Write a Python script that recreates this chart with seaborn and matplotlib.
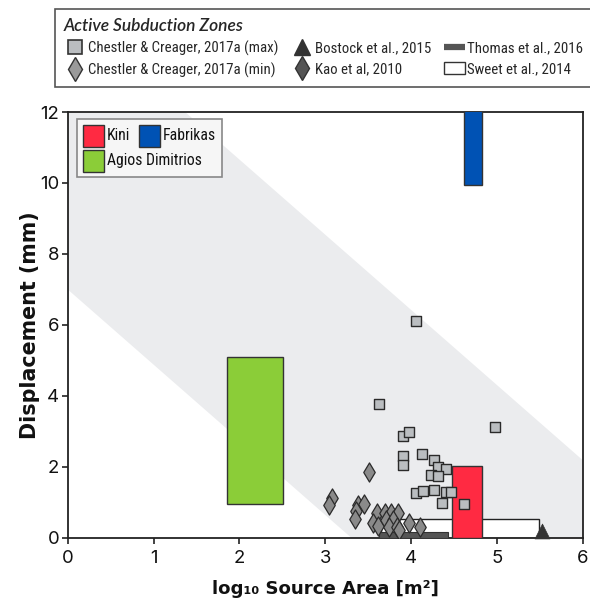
import numpy as np
import pandas as pd
import matplotlib
matplotlib.use("Agg")
import matplotlib.pyplot as plt
from matplotlib import font_manager
from matplotlib.font_manager import FontProperties
from matplotlib.ft2font import FT2Font
from matplotlib.textpath import TextPath
from matplotlib.lines import Line2D
from matplotlib.patches import Patch, Rectangle
from matplotlib.offsetbox import DrawingArea, TextArea, HPacker, VPacker, AnchoredOffsetbox
import seaborn as sns

# Chestler & Creager (2017a), maximum displacement estimates
cc_max_area = [4.06, 3.63, 4.97, 3.90, 3.98, 3.90, 3.90, 4.12, 4.26, 4.31,
               4.41, 4.23, 4.31, 4.06, 4.14, 4.26, 4.40, 4.46, 4.36, 4.61]
cc_max_disp = [6.10, 3.77, 3.13, 2.87, 2.97, 2.30, 2.05, 2.37, 2.19, 1.98,
               1.95, 1.76, 1.73, 1.25, 1.32, 1.34, 1.28, 1.29, 0.99, 0.95]

# Chestler & Creager (2017a), minimum displacement estimates
cc_min_area = [3.51, 3.08, 3.04, 3.38, 3.45, 3.36, 3.34, 3.60, 3.69, 3.77,
               3.85, 3.56, 3.61, 3.71, 3.79, 3.74, 3.84, 3.86, 3.97, 4.10]
cc_min_disp = [1.84, 1.13, 0.93, 0.93, 0.95, 0.74, 0.53, 0.69, 0.69, 0.69,
               0.69, 0.42, 0.33, 0.50, 0.50, 0.31, 0.31, 0.22, 0.41, 0.29]

# Bostock et al. (2015)
bostock_area = [5.52]
bostock_disp = [0.19]

# Thomas et al. (2016) and Sweet et al. (2014): area ranges with a single displacement
thomas_area = [3.62, 4.43]
thomas_disp = 0.15
sweet_area = [3.65, 5.49]
sweet_disp = 0.52

# Field sites (area range, displacement range)
sites = ["Kini", "Fabrikas", "Agios Dimitrios"]
site_area_lo = [4.48, 4.62, 1.86]
site_area_hi = [4.83, 4.82, 2.51]
site_disp_lo = [0.00, 9.95, 0.95]
site_disp_hi = [2.01, 12.50, 5.10]

# Envelope of the subduction-zone data (lower / upper intercept, common slope)
band_intercepts = [7.0, 14.9]
band_slope = -2.12

x_ticks = [0, 1, 2, 3, 4, 5, 6]
y_ticks = [0, 2, 4, 6, 8, 10, 12]

x_label = "log\u2081\u2080 Source Area [m\u00b2]"
y_label = "Displacement (mm)"
legend_title = "Active Subduction Zones"
sz_labels = ["Chestler & Creager, 2017a (max)", "Chestler & Creager, 2017a (min)",
             "Bostock et al., 2015", "Kao et al, 2010",
             "Thomas et al., 2016", "Sweet et al., 2014"]

sns.set_theme(style="white")
plt.rcParams["font.family"] = ["DejaVu Sans"]

# --- font selection among a few sans families: pick the face whose proportions suit each role
SANS = ("DejaVu Sans", "Liberation Sans", "Noto Sans", "Roboto", "Open Sans", "Lato", "Inter")


def usable(name):
    if name in SANS:
        return True
    return any(name.startswith(s) for s in SANS) and any(
        k in name for k in ("Condensed", "Narrow", "Cond"))


candidates = []
seen = set()
for f in font_manager.fontManager.ttflist:
    if f.fname in seen or not f.fname.lower().endswith((".ttf", ".otf")) or not usable(f.name):
        continue
    seen.add(f.fname)
    candidates.append(f)

_cap = {}


def cap_fraction(fname):
    if fname not in _cap:
        _cap[fname] = TextPath((0, 0), "H", size=100,
                               prop=FontProperties(fname=fname)).get_extents().height / 100
    return _cap[fname]


def covers(fname, text):
    try:
        ft = FT2Font(fname)
    except Exception:
        return False
    return all(ft.get_char_index(ord(c)) for c in set(text) if c != " ")


def pick_face(text, target, bold=False, italic=False, need=""):
    best, best_err = None, None
    for f in candidates:
        wt = f.weight if isinstance(f.weight, int) else font_manager.weight_dict.get(f.weight, 400)
        if bold and not 600 <= wt <= 800:
            continue
        if not bold and wt != 400:
            continue
        if (f.style in ("italic", "oblique")) != italic:
            continue
        try:
            if not covers(f.fname, text + need):
                continue
            w = TextPath((0, 0), text, size=100, prop=FontProperties(fname=f.fname)).get_extents().width
            err = abs(w / (cap_fraction(f.fname) * 100) - target)
        except Exception:
            continue
        if best is None or err < best_err:
            best, best_err = f.fname, err
    return best


def fprop(fname, cap_px, weight="normal", style="normal"):
    if fname is None:
        return FontProperties(family="DejaVu Sans", weight=weight, style=style,
                              size=cap_px / 0.73 * 0.72)
    return FontProperties(fname=fname, size=cap_px / cap_fraction(fname) * 0.72)


leg_face = pick_face(sz_labels[0], 15.2)
title_face = pick_face(legend_title, 14.4, bold=True, italic=True)
label_face = pick_face(y_label, 15.0, bold=True, need=x_label)
tick_face = pick_face("0123456789", 8.2)

fp_leg = fprop(leg_face, 10.6)
fp_site = fprop(leg_face, 11.2)
fp_title = fprop(title_face, 12.5, "bold", "italic")
fp_ylabel = fprop(label_face, 15.0, "bold")
fp_xlabel = fprop(label_face, 13.2, "bold")
fp_tick = fprop(tick_face, 13.5)

site_colors = {"Kini": "#ff2a42", "Fabrikas": "#0052b4", "Agios Dimitrios": "#8bcd38"}
edge = "#333333"

fig = plt.figure(figsize=(5.9, 6.01), dpi=100)
ax = fig.add_axes([0.1147, 0.1053, 0.8734, 0.7083])

# shaded envelope
xs = np.array([0.0, 6.0])
ax.fill_between(xs, band_intercepts[0] + band_slope * xs,
                band_intercepts[1] + band_slope * xs,
                color="#ebecee", lw=0, zorder=0)

# Sweet et al. open rectangle and Thomas et al. bar
ax.bar(sweet_area[0], sweet_disp, width=sweet_area[1] - sweet_area[0], align="edge",
       facecolor="white", edgecolor="#222222", lw=1.0, zorder=2)
ax.bar(thomas_area[0], thomas_disp, width=thomas_area[1] - thomas_area[0], align="edge",
       facecolor="#555555", edgecolor="#333333", lw=0.8, zorder=3)

# field-site boxes
for name, a0, a1, d0, d1 in zip(sites, site_area_lo, site_area_hi, site_disp_lo, site_disp_hi):
    ax.bar(a0, d1 - d0, bottom=d0, width=a1 - a0, align="edge",
           facecolor=site_colors[name], edgecolor=edge, lw=1.0, zorder=4)

df_min = pd.DataFrame({"area": cc_min_area, "disp": cc_min_disp})
df_max = pd.DataFrame({"area": cc_max_area, "disp": cc_max_disp})
df_bos = pd.DataFrame({"area": bostock_area, "disp": bostock_disp})

sns.scatterplot(data=df_min, x="area", y="disp", marker="d", s=95,
                color="#8a8a8a", edgecolor="#2a2a2a", linewidth=0.9, ax=ax, zorder=5)
sns.scatterplot(data=df_max, x="area", y="disp", marker="s", s=62,
                color="#babdc0", edgecolor="#2a2a2a", linewidth=1.0, ax=ax, zorder=6)
sns.scatterplot(data=df_bos, x="area", y="disp", marker="^", s=115,
                color="#333333", edgecolor="#333333", linewidth=0.5, ax=ax, zorder=6,
                clip_on=False)

ax.set_xlim(0, 6)
ax.set_ylim(0, 12)
ax.set_xticks(x_ticks)
ax.set_yticks(y_ticks)
ax.set_xticklabels([str(t) for t in x_ticks], fontproperties=fp_tick)
ax.set_yticklabels([str(t) for t in y_ticks], fontproperties=fp_tick)
ax.tick_params(axis="both", which="both", direction="out", length=4.5, width=1.2,
               color="#222222", labelcolor="#111111", bottom=True, left=True)
ax.tick_params(axis="x", pad=4.5)
ax.tick_params(axis="y", pad=1.5)
for sp in ax.spines.values():
    sp.set_color("#222222")
    sp.set_linewidth(1.3)

ax.set_xlabel(x_label, fontproperties=fp_xlabel, color="#111111")
ax.set_ylabel(y_label, fontproperties=fp_ylabel, color="#111111")
ax.xaxis.set_label_coords(0.5, -0.099)
ax.yaxis.set_label_coords(-0.054, 0.5)


# legend for the field sites: Kini and Fabrikas side by side, Agios Dimitrios below
def swatch(color):
    da = DrawingArea(15.5, 15.5, 0, 0)
    da.add_artist(Rectangle((0, 0), 15.5, 15.5, facecolor=color, edgecolor=edge, lw=1.0))
    return da


def entry(name):
    return HPacker(children=[swatch(site_colors[name]),
                             TextArea(name, textprops=dict(fontproperties=fp_site, color="#111111"))],
                   sep=2.0, align="center", pad=0)


row1 = HPacker(children=[entry("Kini"), entry("Fabrikas")], sep=6, align="center", pad=0)
row2 = entry("Agios Dimitrios")
site_box = VPacker(children=[row1, row2], sep=2.5, align="left", pad=0)
anch = AnchoredOffsetbox(loc="upper left", child=site_box, pad=0.42, borderpad=0,
                         bbox_to_anchor=(0.018, 0.983), bbox_transform=ax.transAxes,
                         frameon=True, prop=dict(size=10))
anch.patch.set_facecolor("#f6f6f6")
anch.patch.set_edgecolor("#888888")
anch.patch.set_linewidth(1.2)
anch.set_zorder(10)
ax.add_artist(anch)

# legend for the subduction-zone datasets
sz_handles = [
    Line2D([], [], marker="s", ls="none", ms=10.5, mfc="#babdc0", mec="#333333", mew=1.2),
    Line2D([], [], marker="d", ls="none", ms=12.5, mfc="#9a9a9a", mec="#333333", mew=1.0),
    Line2D([], [], marker="^", ls="none", ms=11, mfc="#333333", mec="#333333"),
    Line2D([], [], marker="d", ls="none", ms=12.5, mfc="#555555", mec="#333333", mew=1.0),
    Line2D([], [], color="#555555", lw=4.5, solid_capstyle="butt"),
    Patch(facecolor="white", edgecolor="#333333", lw=1.0),
]
leg_sz = fig.legend(sz_handles, sz_labels, ncol=3, loc="upper left",
                    bbox_to_anchor=(55 / 590, 1 - 9 / 601),
                    title=legend_title, alignment="left",
                    title_fontproperties=fp_title, prop=fp_leg,
                    frameon=True, fancybox=False, framealpha=1,
                    edgecolor="#555555", facecolor="white",
                    handlelength=1.45, handleheight=0.8, handletextpad=0.15,
                    columnspacing=0.85, labelspacing=0.45, borderpad=0.6, borderaxespad=0)
leg_sz.get_frame().set_linewidth(1.2)

fig.savefig("out.png", dpi=100)
